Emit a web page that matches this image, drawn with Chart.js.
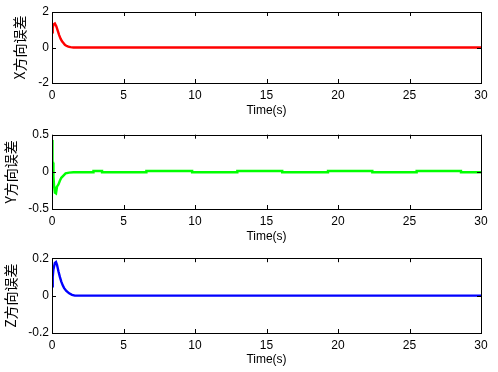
<!DOCTYPE html>
<html><head><meta charset="utf-8">
<script src="https://cdn.jsdelivr.net/npm/chart.js@4/dist/chart.umd.min.js"></script>
<style>
html,body{margin:0;padding:0;background:#fff;}
body{width:498px;height:372px;position:relative;overflow:hidden;}
canvas{position:absolute;left:0;}
</style></head>
<body>
<canvas id="c1" width="498" height="124" style="top:0px"></canvas>
<canvas id="c2" width="498" height="124" style="top:124px"></canvas>
<canvas id="c3" width="498" height="124" style="top:248px"></canvas>
<script>
// ---- data ----
const xTicks = [0, 5, 10, 15, 20, 25, 30];

const tX   = [0, 0.05, 0.1, 0.2, 0.3, 0.4, 0.5, 0.6, 0.7, 0.8, 0.9, 1.0, 1.1, 1.2, 1.3, 1.5, 30];
const xErr = [0.85, 1.1, 1.3, 1.35, 1.2, 0.95, 0.7, 0.5, 0.35, 0.25, 0.15, 0.1, 0.06, 0.04, 0.02, 0, 0];

const tY   = [0, 0.03, 0.04, 0.08, 0.1, 0.15, 0.2, 0.28, 0.35, 0.45, 0.55, 0.65, 0.8, 0.95, 1.2, 1.5, 2.9, 2.9, 3.5, 3.5, 6.6, 6.6, 9.8, 9.8, 12.96, 12.96, 16.1, 16.1, 19.3, 19.3, 22.4, 22.4, 25.5, 25.5, 28.6, 28.6, 30];
const yErr = [0.43, 0.43, 0.12, 0.12, -0.06, -0.2, -0.28, -0.29, -0.2, -0.17, -0.12, -0.08, -0.05, -0.02, -0.01, -0.005, -0.005, 0.012, 0.012, -0.005, -0.005, 0.012, 0.012, -0.005, -0.005, 0.012, 0.012, -0.005, -0.005, 0.012, 0.012, -0.005, -0.005, 0.012, 0.012, -0.005, -0.005];

const tZ   = [0, 0.05, 0.1, 0.2, 0.28, 0.35, 0.45, 0.55, 0.65, 0.75, 0.85, 1.0, 1.2, 1.4, 1.6, 30];
const zErr = [0.05, 0.1, 0.14, 0.175, 0.18, 0.165, 0.13, 0.1, 0.075, 0.055, 0.04, 0.025, 0.012, 0.004, 0, 0];

const panels = [
  {id:'c1', t:tX, v:xErr, color:'#ff0000', yTicks:[-2,0,2], yLabel:'X方向误差', top:12, xh:41, titlePadB:6, yTitlePad:11},
  {id:'c2', t:tY, v:yErr, color:'#00ff00', yTicks:[-0.5,0,0.5], yLabel:'Y方向误差', top:10.7, xh:39, titlePadB:4, yTitlePad:2},
  {id:'c3', t:tZ, v:zErr, color:'#0000ff', yTicks:[-0.2,0,0.2], yLabel:'Z方向误差', top:10, xh:39, titlePadB:5, yTitlePad:2}
];

const boxPlugin = {
  id:'box',
  afterDatasetsDraw(chart){
    const {ctx, chartArea:a, scales:{x, y}} = chart;
    ctx.save();
    ctx.strokeStyle = '#000';
    ctx.lineWidth = 1;
    ctx.strokeRect(Math.round(a.left)+0.5, Math.round(a.top)+0.5, Math.round(a.right-a.left), Math.round(a.bottom-a.top));
    const L = 4;
    ctx.beginPath();
    x.ticks.forEach(tk => {
      const px = Math.round(x.getPixelForValue(tk.value)) + 0.5;
      ctx.moveTo(px, a.bottom); ctx.lineTo(px, a.bottom - L);
      ctx.moveTo(px, a.top); ctx.lineTo(px, a.top + L);
    });
    y.ticks.forEach(tk => {
      const py = Math.round(y.getPixelForValue(tk.value)) + 0.5;
      ctx.moveTo(a.left, py); ctx.lineTo(a.left + L, py);
      ctx.moveTo(a.right, py); ctx.lineTo(a.right - L, py);
    });
    ctx.stroke();
    ctx.restore();
  }
};

const tickFont = {family:'"Liberation Sans", Arial, sans-serif', size:12};

panels.forEach(p => {
  const pts = p.t.map((t, i) => ({x:t, y:p.v[i]}));
  new Chart(document.getElementById(p.id), {
    type:'line',
    data:{datasets:[{data:pts, borderColor:p.color, borderWidth:2.4, pointRadius:0, tension:0, fill:false}]},
    options:{
      responsive:false, animation:false, events:[],
      layout:{padding:{top:p.top, right:17, left:0, bottom:0}},
      plugins:{legend:{display:false}, tooltip:{enabled:false}},
      scales:{
        x:{type:'linear', min:0, max:30,
          afterBuildTicks(s){ s.ticks = xTicks.map(v => ({value:v})); },
          afterFit(s){ s.height = p.xh; },
          grid:{display:false, drawTicks:false},
          border:{display:false},
          ticks:{font:tickFont, color:'#000', padding:5, maxRotation:0},
          title:{display:true, text:'Time(s)', font:tickFont, color:'#000', padding:{top:0, bottom:p.titlePadB}}
        },
        y:{type:'linear', min:p.yTicks[0], max:p.yTicks[2],
          afterBuildTicks(s){ s.ticks = p.yTicks.map(v => ({value:v})); },
          afterFit(s){ s.width = 52; },
          grid:{display:false, drawTicks:false},
          border:{display:false},
          ticks:{font:tickFont, color:'#000', padding:3},
          title:{display:true, text:p.yLabel, font:{family:'"Noto Sans CJK SC", sans-serif', size:14}, color:'#000', padding:{top:p.yTitlePad, bottom:0}}
        }
      }
    },
    plugins:[boxPlugin]
  });
});
</script>
</body></html>
